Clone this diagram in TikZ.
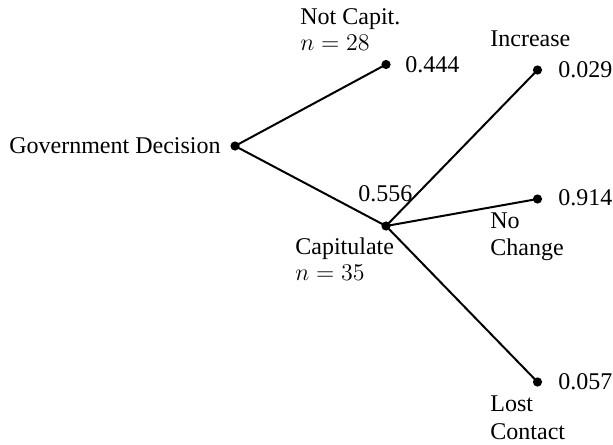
\documentclass[tikz,border=0pt]{standalone}
\usepackage{fontspec}
\setmainfont{Liberation Serif}
\begin{document}
\begin{tikzpicture}[x=0.5pt,y=-0.5pt,
  lbl/.style={anchor=base west, inner sep=0pt, font=\fontsize{12}{13.5}\selectfont},
  dot/.style={circle, fill=black, inner sep=0pt, minimum size=4.6pt},
  edge/.style={line width=1pt}]
\useasboundingbox (0,0) rectangle (613,444);
% dots
\node[dot] (gov)  at (235,146) {};
\node[dot] (nc)   at (386,64.5) {};
\node[dot] (cap)  at (386,226) {};
\node[dot] (inc)  at (537.5,70) {};
\node[dot] (noc)  at (537.5,199) {};
\node[dot] (lost) at (537.5,382) {};
% edges
\draw[edge] (gov.center) -- (nc.center);
\draw[edge] (gov.center) -- (cap.center);
\draw[edge] (cap.center) -- (inc.center);
\draw[edge] (cap.center) -- (noc.center);
\draw[edge] (cap.center) -- (lost.center);
% labels
\node[lbl, anchor=base east] (govl) at (221,153.5) {Government Decision};
\node[lbl] (ncl1) at (300,24.5) {Not Capit.};
\node[lbl] (ncl2) at (300,50.5) {$n=28$};
\node[lbl] (ncp)  at (405,72) {0.444};
\node[lbl] (incl) at (490,46.5) {Increase};
\node[lbl] (incp) at (558,77) {0.029};
\node[lbl] (capp) at (358,201.5) {0.556};
\node[lbl] (capl1) at (295,254) {Capitulate};
\node[lbl] (capl2) at (295,280) {$n=35$};
\node[lbl] (nocp) at (558,205.5) {0.914};
\node[lbl] (nocl1) at (490,228) {No};
\node[lbl] (nocl2) at (490,255) {Change};
\node[lbl] (lostp) at (558,389) {0.057};
\node[lbl] (lostl1) at (490,411.5) {Lost};
\node[lbl] (lostl2) at (490,439) {Contact};
\end{tikzpicture}
\end{document}
